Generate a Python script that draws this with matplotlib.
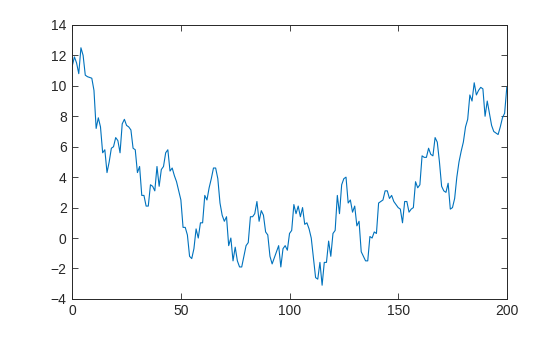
import matplotlib
matplotlib.use("Agg")
import matplotlib.pyplot as plt
import numpy as np

x_values = list(range(0, 201))
y_values = [
    11.3, 11.9, 11.5, 10.8, 12.5, 12.0, 10.7, 10.6, 10.55, 10.5,
    9.7, 7.2, 7.9, 7.3, 5.6, 5.8, 4.3, 5.0, 5.9, 6.0,
    6.6, 6.4, 5.6, 7.5, 7.8, 7.4, 7.3, 7.1, 5.9, 5.8,
    4.3, 4.7, 2.8, 2.8, 2.1, 2.1, 3.5, 3.4, 3.1, 4.7,
    3.4, 4.5, 4.7, 5.6, 5.8, 4.4, 4.6, 4.1, 3.7, 3.1,
    2.5, 0.7, 0.7, 0.2, -1.2, -1.35, -0.7, 0.6, 0.0, 1.0,
    1.0, 2.8, 2.5, 3.3, 3.9, 4.6, 4.6, 3.9, 2.3, 1.5,
    1.1, 1.4, -0.5, 0.0, -1.5, -0.6, -1.5, -1.9, -1.9, -1.2,
    -0.5, -0.3, 1.4, 1.4, 1.6, 2.4, 1.1, 1.8, 1.5, 0.4,
    0.2, -1.2, -1.7, -1.3, -0.9, -0.5, -1.9, -0.7, -0.5, -0.8,
    0.3, 0.5, 2.2, 1.6, 2.1, 1.4, 2.0, 0.9, 1.0, 0.6,
    0.0, -1.3, -2.6, -2.7, -1.6, -3.1, -1.6, -1.6, -0.2, -1.2,
    0.3, 0.5, 2.8, 1.6, 3.5, 3.9, 4.0, 2.3, 2.5, 1.7,
    2.1, 0.8, 1.1, -0.9, -1.2, -1.5, -1.5, 0.1, 0.0, 0.4,
    0.3, 2.3, 2.4, 2.5, 3.1, 3.1, 2.6, 2.8, 2.4, 2.2,
    2.0, 1.9, 1.0, 2.4, 2.4, 1.7, 1.9, 2.0, 3.7, 3.3,
    3.5, 5.4, 5.3, 5.3, 5.9, 5.5, 5.4, 6.6, 6.3, 5.0,
    3.4, 3.1, 3.0, 3.6, 1.9, 2.0, 2.6, 4.0, 5.0, 5.7,
    6.3, 7.3, 7.8, 9.4, 9.0, 10.2, 9.4, 9.7, 9.9, 9.8,
    8.0, 9.0, 8.2, 7.4, 7.0, 6.9, 6.8, 7.3, 7.9, 8.2,
    9.9,
]
x_ticks = [0, 50, 100, 150, 200]
y_ticks = [-4, -2, 0, 2, 4, 6, 8, 10, 12, 14]

plt.rcParams['font.family'] = ['Liberation Sans', 'DejaVu Sans']

fig = plt.figure(figsize=(5.6, 3.37), dpi=100)
ax = fig.add_axes([0.129, 0.113, 0.776, 0.813])
ax.plot(x_values, y_values, color='#0072BD', linewidth=0.8)
ax.set_xlim(0, 200)
ax.set_ylim(-4, 14)
ax.set_xticks(x_ticks)
ax.set_yticks(y_ticks)
ax.tick_params(direction='in', top=True, right=True, length=4, width=0.6,
               labelsize=10, colors='#262626', pad=4)
for s in ax.spines.values():
    s.set_linewidth(0.7)
    s.set_color('#262626')
fig.savefig('out.png', dpi=100)
